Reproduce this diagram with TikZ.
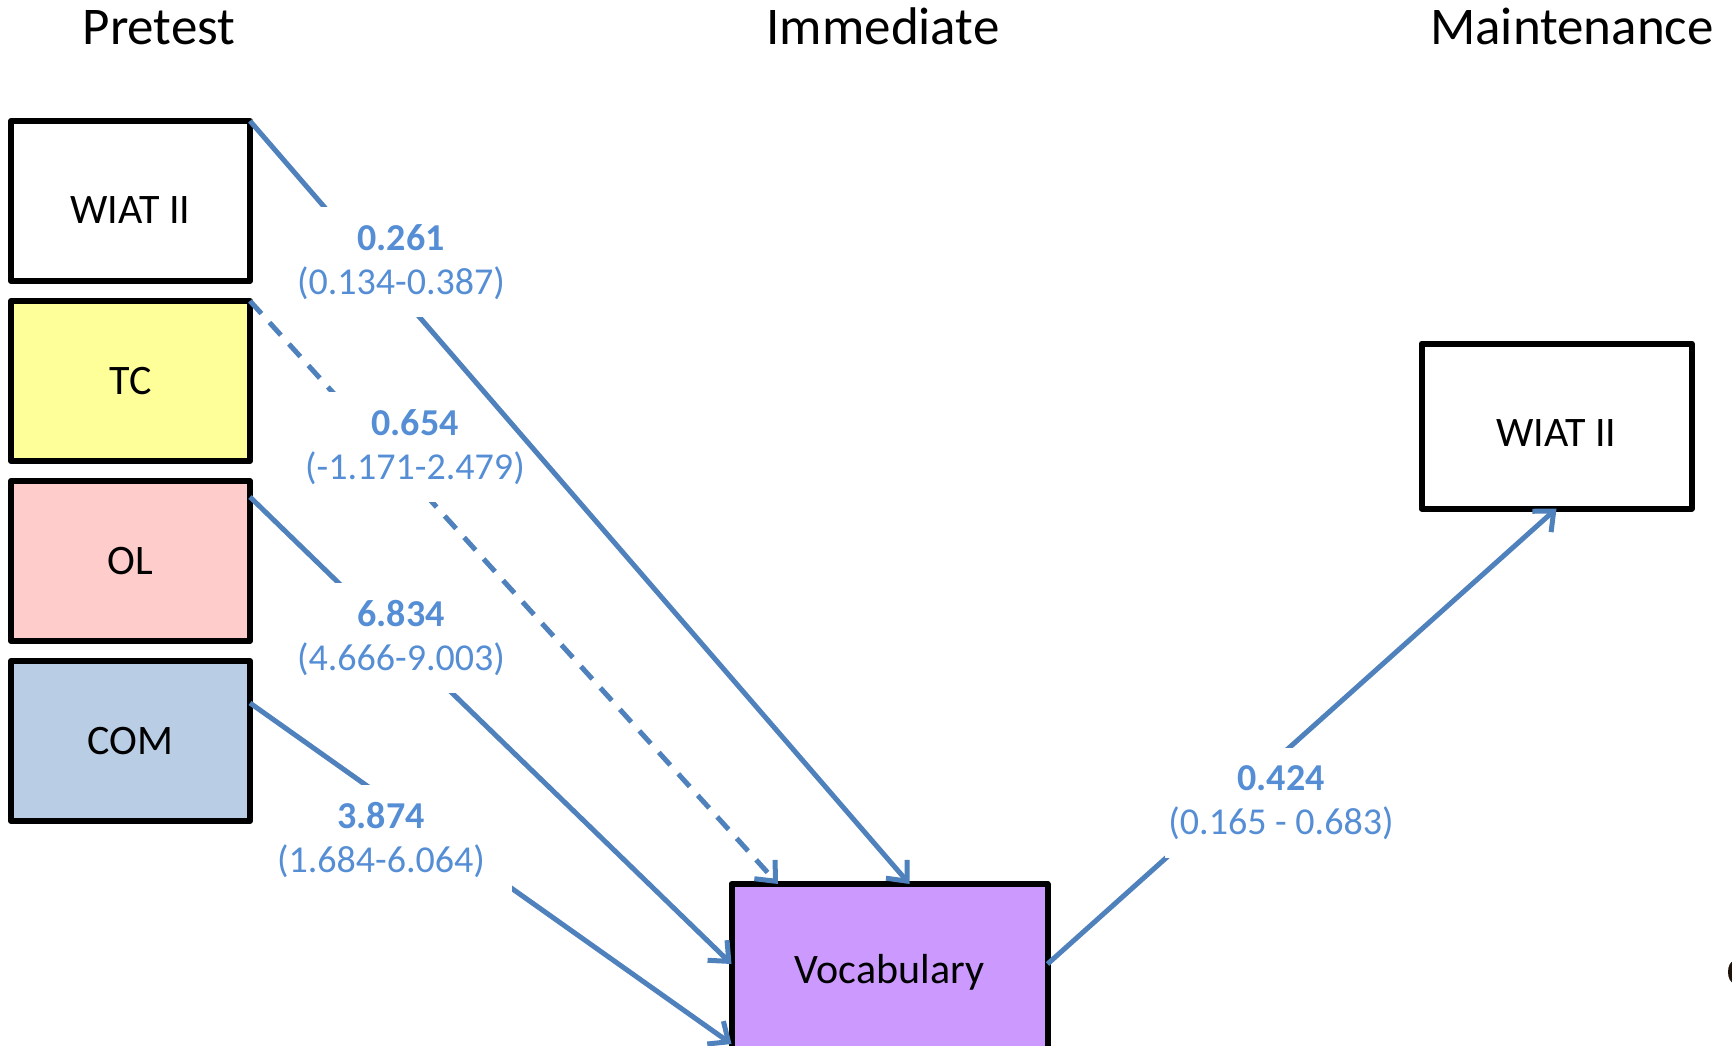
\documentclass[tikz,border=0pt]{standalone}
\usepackage{fontspec}
\setmainfont{Carlito}
\usetikzlibrary{arrows.meta}
\definecolor{lineblue}{HTML}{4F81BD}
\definecolor{labelblue}{HTML}{558ED5}
\definecolor{tcfill}{HTML}{FFFF99}
\definecolor{olfill}{HTML}{FFCCCC}
\definecolor{comfill}{HTML}{B9CDE5}
\definecolor{vocfill}{HTML}{CC99FF}
\begin{document}
\begin{tikzpicture}[x=1pt,y=-1pt,
  box/.style={draw=black, line width=6pt, inner sep=0pt, outer sep=0pt,
    line join=round, font=\fontsize{42}{50}\selectfont},
  prebox/.style={box, minimum width=239pt, minimum height=160pt},
  conn/.style={draw=lineblue, line width=5pt,
    -{Straight Barb[length=16pt,width=28pt]}},
  lbl/.style={fill=white, text=labelblue, align=center,
    font=\fontsize{38}{44}\selectfont, minimum height=110pt,
    inner xsep=3pt, inner ysep=0pt, outer sep=0pt},
  title/.style={font=\fontsize{53}{62}\selectfont, anchor=base}]
\useasboundingbox (0,0) rectangle (1732,1046);
\clip (0,0) rectangle (1732,1046);
\fill[white] (0,0) rectangle (1732,1046);
% titles
\node[title] (tpre) at (159,45) {Pretest};
\node[title] (timm) at (883,45) {Immediate};
\node[title] (tmain) at (1572,45) {Maintenance};
% boxes
\node[prebox, fill=white, text height=45pt, text depth=0pt] (wiat) at (130.5,201) {WIAT II};
\node[prebox, fill=tcfill] (tc) at (130.5,381) {TC};
\node[prebox, fill=olfill] (ol) at (130.5,561) {OL};
\node[prebox, fill=comfill] (com) at (130.5,741) {COM};
\node[box, fill=vocfill, minimum width=316pt, minimum height=176pt] (voc) at (889.5,972) {Vocabulary};
\node[box, fill=white, minimum width=270pt, minimum height=165pt, text height=41pt, text depth=0pt] (wiat2) at (1556.5,426) {WIAT II};
% connectors and labels (order sets which label hides which line)
\draw[conn] ([yshift=-16pt]ol.north east) -- ([yshift=8pt]voc.west);
\draw[conn] ([yshift=38pt]com.east) -- ([yshift=-72pt]voc.west);
\draw[conn] ([yshift=8pt]voc.east) -- (wiat2.south);
\node[lbl] (l3) at (401,638) {\textbf{6.834}\\(4.666-9.003)};
\node[lbl] (l4) at (381,840) {\textbf{3.874}\\(1.684-6.064)};
\fill[white] (l4.north east) rectangle ([xshift=24pt]l4.south east);
\node[lbl] (l5) at (1281,803) {\textbf{0.424}\\(0.165 - 0.683)};
\draw[conn, dash pattern=on 17pt off 12pt] (tc.north east) -- ([xshift=-111.5pt]voc.north);
\node[lbl] (l2) at (415,447) {\textbf{0.654}\\(-1.171-2.479)};
\draw[conn] (wiat.north east) -- ([xshift=20pt]voc.north);
\node[lbl] (l1) at (401,262) {\textbf{0.261}\\(0.134-0.387)};
% partial glyph at right edge
\fill[black!85!brown] (1734,972) ellipse (6pt and 11pt);
\end{tikzpicture}
\end{document}
